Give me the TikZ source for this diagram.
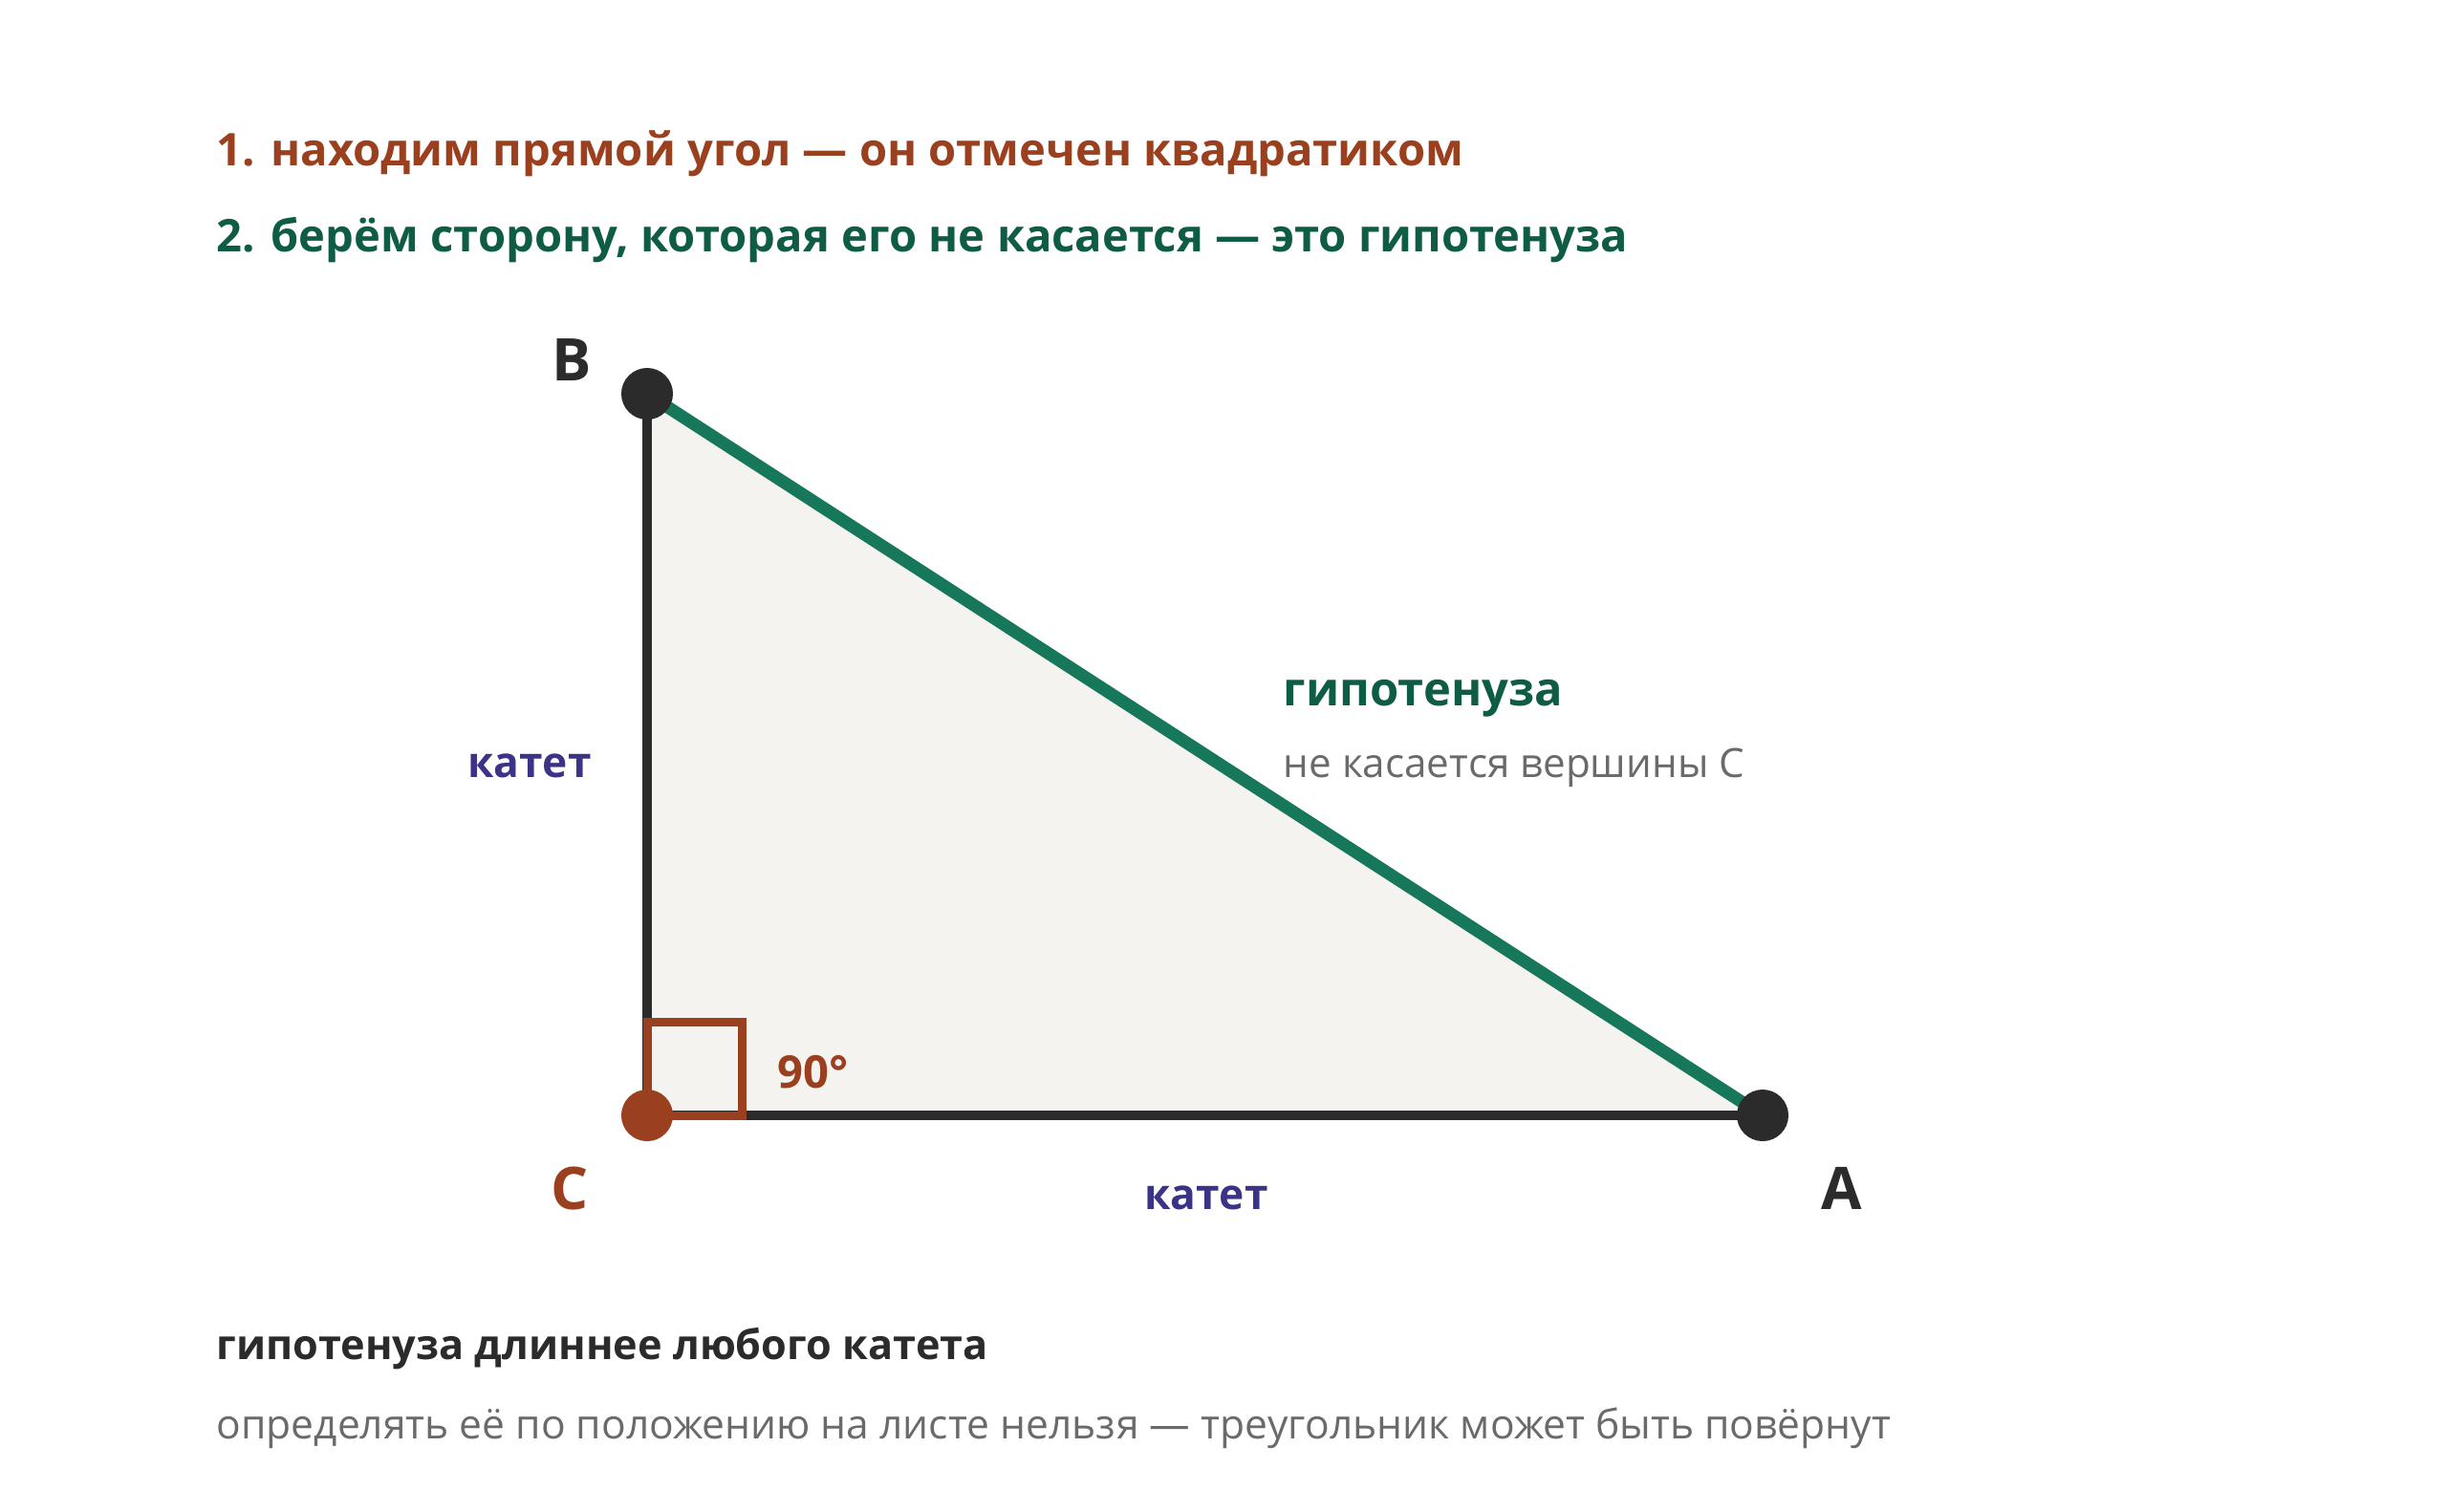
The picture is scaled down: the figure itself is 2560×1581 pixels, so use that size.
\documentclass[tikz,border=0pt]{standalone}
\usepackage{fontspec}
\setmainfont{Open Sans}
\usepackage{xcolor}
\usepackage{tikz}

\definecolor{rust}{HTML}{9A401E}
\definecolor{pine}{HTML}{0E5C45}
\definecolor{hypline}{HTML}{17775A}
\definecolor{indigo}{HTML}{3B3486}
\definecolor{ink}{HTML}{2B2B2B}
\definecolor{muted}{HTML}{6A6A6A}
\definecolor{paper}{HTML}{F4F3EF}

\begin{document}
\begin{tikzpicture}[x=0.01cm, y=-0.01cm]
% Define styles
\tikzstyle{vertex} = [circle, fill=ink, inner sep=0pt, minimum size=0.54cm]
\tikzstyle{leg} = [draw=ink, line width=0.1cm]
\tikzstyle{hyp} = [draw=hypline, line width=0.13cm]
\tikzstyle{step1} = [anchor=base west, inner sep=0pt, text=rust, font=\bfseries\fontsize{13.4pt}{16pt}\selectfont]
\tikzstyle{step2} = [anchor=base west, inner sep=0pt, text=pine, font=\bfseries\fontsize{13.4pt}{16pt}\selectfont]
\tikzstyle{vlabel} = [anchor=base, inner sep=0pt, font=\bfseries\fontsize{17.5pt}{21pt}\selectfont]
\tikzstyle{katet} = [anchor=base, inner sep=0pt, text=indigo, font=\bfseries\fontsize{12.6pt}{15pt}\selectfont]
\tikzstyle{note} = [anchor=base west, inner sep=0pt, font=\fontsize{12pt}{15pt}\selectfont]

% Canvas
\fill[white] (0,0) rectangle (2560,1581);
\useasboundingbox (0,0) rectangle (2560,1581);

% Steps
\node [step1] (first) at (226,173) {1. находим прямой угол — он отмечен квадратиком};
\node [step2] (second) at (226,263) {2. берём сторону, которая его не касается — это гипотенуза};

% Triangle
\coordinate (B) at (677,412);
\coordinate (C) at (677,1167);
\coordinate (A) at (1844,1167);
\fill [paper] (B) -- (C) -- (A) -- cycle;
\draw [leg] (B) -- (C);
\draw [leg] (C) -- (A);
\draw [hyp] (B) -- (A);

% Right angle
\draw [draw=rust, line width=0.09cm] (C) rectangle ++(99,-98);
\node [anchor=base west, inner sep=0pt, text=rust, font=\bfseries\fontsize{13.4pt}{16pt}\selectfont] (deg) at (813,1138) {90°};

% Vertices
\node [vertex] (Bpt) at (B) {};
\node [vertex] (Apt) at (A) {};
\node [vertex, fill=rust] (Cpt) at (C) {};
\node [vlabel, text=ink] (Blabel) at (598,398) {B};
\node [vlabel, text=rust] (Clabel) at (596,1265) {C};
\node [vlabel, text=ink] (Alabel) at (1927,1265) {A};

% Labels
\node [katet] (leftleg) at (554,813) {катет};
\node [katet] (bottomleg) at (1262,1265) {катет};
\node [anchor=base west, inner sep=0pt, text=pine, font=\bfseries\fontsize{13.9pt}{17pt}\selectfont] (hyplabel) at (1342,738) {гипотенуза};
\node [note, text=muted] (hypnote) at (1342,813) {не касается вершины С};

% Bottom notes
\node [note, text=ink, font=\bfseries\fontsize{12.3pt}{15pt}\selectfont] (rule) at (226,1422) {гипотенуза длиннее любого катета};
\node [note, text=muted, font=\fontsize{12.1pt}{15pt}\selectfont] (warn) at (226,1505) {определять её по положению на листе нельзя — треугольник может быть повёрнут};

\end{tikzpicture}
\end{document}
